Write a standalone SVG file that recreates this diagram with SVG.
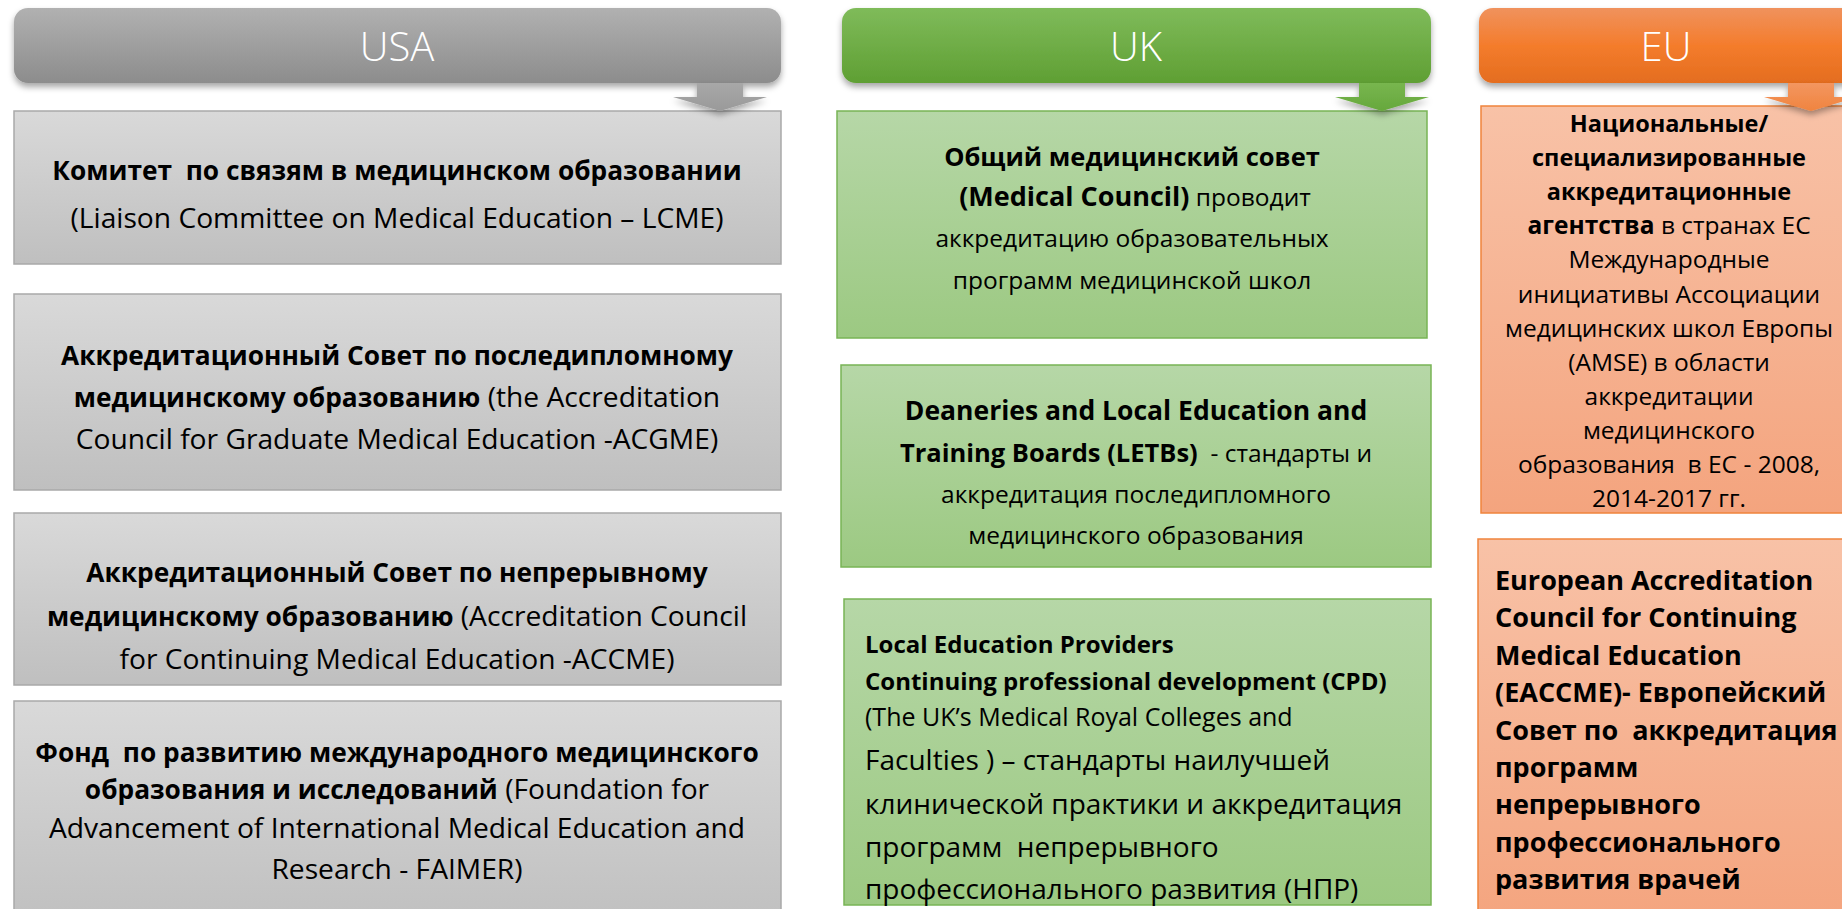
<svg xmlns="http://www.w3.org/2000/svg" width="1842" height="909" viewBox="0 0 1842 909">
<defs>
<linearGradient id="gHdrGray" x1="0" y1="0" x2="0" y2="1"><stop offset="0" stop-color="#b1b1b1"/><stop offset="1" stop-color="#8c8c8c"/></linearGradient>
<linearGradient id="gHdrGreen" x1="0" y1="0" x2="0" y2="1"><stop offset="0" stop-color="#7fbb5a"/><stop offset="1" stop-color="#5f9f33"/></linearGradient>
<linearGradient id="gHdrOrange" x1="0" y1="0" x2="0" y2="1"><stop offset="0" stop-color="#f0925d"/><stop offset="0.5" stop-color="#f47c2c"/><stop offset="1" stop-color="#e46d1f"/></linearGradient>
<linearGradient id="gBoxGray" x1="0" y1="0" x2="0" y2="1"><stop offset="0" stop-color="#d9d9d9"/><stop offset="1" stop-color="#bfbfbf"/></linearGradient>
<linearGradient id="gBoxGreen" x1="0" y1="0" x2="0" y2="1"><stop offset="0" stop-color="#b6d7a7"/><stop offset="1" stop-color="#9cc982"/></linearGradient>
<linearGradient id="gBoxOrange" x1="0" y1="0" x2="0" y2="1"><stop offset="0" stop-color="#f8c2a7"/><stop offset="1" stop-color="#f4a47e"/></linearGradient>
<linearGradient id="gArrGray" x1="0" y1="0" x2="0" y2="1"><stop offset="0" stop-color="#a8a8a8"/><stop offset="1" stop-color="#9a9a9a"/></linearGradient>
<linearGradient id="gArrGreen" x1="0" y1="0" x2="0" y2="1"><stop offset="0" stop-color="#78b64f"/><stop offset="1" stop-color="#66a83c"/></linearGradient>
<linearGradient id="gArrOrange" x1="0" y1="0" x2="0" y2="1"><stop offset="0" stop-color="#f39660"/><stop offset="1" stop-color="#f0843f"/></linearGradient>
<filter id="shadow" x="-10%" y="-30%" width="120%" height="170%"><feDropShadow dx="0" dy="4" stdDeviation="3" flood-color="#000" flood-opacity="0.35"/></filter>
</defs>
<style>
text{font-family:"Open Sans","Noto Sans","DejaVu Sans",sans-serif;fill:#000;}
.hdr{font-size:40px;font-weight:300;fill:#fff;text-anchor:middle;}
.c{text-anchor:middle;}
.b{font-weight:700;}
.ub{font-size:26.3px;font-weight:700;}
.ur{font-size:28.2px;}
.k{font-size:25.5px;}
.kr{font-size:24.5px;}
.klb{font-size:26.5px;font-weight:700;}
.kmb{font-size:27px;font-weight:700;}
.k1{font-size:24px;}
.k2{font-size:25px;}
.k3{font-size:28px;}
.e1b{font-size:23.5px;font-weight:700;}
.e1{font-size:24.5px;}
.e2{font-size:27px;font-weight:700;}
.bxGray{fill:url(#gBoxGray);stroke:#a9a9a9;stroke-width:1.5;}
.bxGreen{fill:url(#gBoxGreen);stroke:#78b455;stroke-width:1.5;}
.bxOrange{fill:url(#gBoxOrange);stroke:#f0843c;stroke-width:1.5;}
</style>
<rect width="1842" height="909" fill="#fff"/>

<g id="usa-header">
<rect x="14" y="8" width="767" height="75" rx="14" fill="url(#gHdrGray)" filter="url(#shadow)"/>
<text class="hdr" x="397" y="61">USA</text>
</g>
<g id="uk-header">
<rect x="842" y="8" width="589" height="75" rx="14" fill="url(#gHdrGreen)" filter="url(#shadow)"/>
<text class="hdr" x="1136" y="61">UK</text>
</g>
<g id="eu-header">
<rect x="1479" y="8" width="390" height="75" rx="14" fill="url(#gHdrOrange)" filter="url(#shadow)"/>
<text class="hdr" x="1666" y="61">EU</text>
</g>

<g id="usa-lcme">
<rect class="bxGray" x="14" y="111" width="767" height="153"/>
<text class="ub c" x="397" y="180">Комитет&#160; по связям в медицинском образовании</text>
<text class="ur c" x="397" y="228">(Liaison Committee on Medical Education – LCME)</text>
</g>
<g id="usa-acgme">
<rect class="bxGray" x="14" y="294" width="767" height="196"/>
<text class="ub c" x="397" y="365">Аккредитационный Совет по последипломному</text>
<text class="ur c" x="397" y="407"><tspan class="ub">медицинскому образованию</tspan> (the Accreditation</text>
<text class="ur c" x="397" y="449">Council for Graduate Medical Education -ACGME)</text>
</g>
<g id="usa-accme">
<rect class="bxGray" x="14" y="513" width="767" height="172"/>
<text class="ub c" x="397" y="582">Аккредитационный Совет по непрерывному</text>
<text class="ur c" x="397" y="626"><tspan class="ub">медицинскому образованию</tspan> (Accreditation Council</text>
<text class="ur c" x="397" y="669">for Continuing Medical Education -ACCME)</text>
</g>
<g id="usa-faimer">
<rect class="bxGray" x="14" y="701" width="767" height="230"/>
<text class="ub c" x="397" y="762">Фонд&#160; по развитию международного медицинского</text>
<text class="ur c" x="397" y="799"><tspan class="ub">образования и исследований</tspan> (Foundation for</text>
<text class="ur c" x="397" y="838">Advancement of International Medical Education and</text>
<text class="ur c" x="397" y="879">Research - FAIMER)</text>
</g>

<g id="uk-gmc">
<rect class="bxGreen" x="837" y="111" width="590" height="227"/>
<text class="k c b" x="1132" y="166">Общий медицинский совет</text>
<text class="kr c" x="1135" y="206"><tspan class="kmb">(Medical Council)</tspan> проводит</text>
<text class="kr c" x="1132" y="247">аккредитацию образовательных</text>
<text class="kr c" x="1132" y="289">программ медицинской школ</text>
</g>
<g id="uk-letb">
<rect class="bxGreen" x="841" y="365" width="590" height="202"/>
<text class="klb c" x="1136" y="420">Deaneries and Local Education and</text>
<text class="kr c" x="1136" y="462"><tspan class="k b">Training Boards (LETBs)</tspan>&#160; - стандарты и</text>
<text class="kr c" x="1136" y="503">аккредитация последипломного</text>
<text class="kr c" x="1136" y="544">медицинского образования</text>
</g>
<g id="uk-cpd">
<rect class="bxGreen" x="844" y="599" width="587" height="306"/>
<text class="k1 b" x="865" y="653">Local Education Providers</text>
<text class="k1 b" x="865" y="690">Continuing professional development (CPD)</text>
<text class="k2" x="865" y="726">(The UK’s Medical Royal Colleges and</text>
<text class="k3" x="865" y="770">Faculties ) – стандарты наилучшей</text>
<text class="k3" x="865" y="814">клинической практики и аккредитация</text>
<text class="k3" x="865" y="857">программ&#160; непрерывного</text>
<text class="k3" x="865" y="899">профессионального развития (НПР)</text>
</g>

<g id="eu-national">
<rect class="bxOrange" x="1481" y="106" width="380" height="407"/>
<text class="e1b c" x="1669" y="132">Национальные/</text>
<text class="e1b c" x="1669" y="166">специализированные</text>
<text class="e1b c" x="1669" y="200">аккредитационные</text>
<text class="e1 c" x="1669" y="234"><tspan class="b">агентства</tspan> в странах ЕС</text>
<text class="e1 c" x="1669" y="268">Международные</text>
<text class="e1 c" x="1669" y="303">инициативы Ассоциации</text>
<text class="e1 c" x="1669" y="337">медицинских школ Европы</text>
<text class="e1 c" x="1669" y="371">(AMSE) в области</text>
<text class="e1 c" x="1669" y="405">аккредитации</text>
<text class="e1 c" x="1669" y="439">медицинского</text>
<text class="e1 c" x="1669" y="473">образования&#160; в ЕС - 2008,</text>
<text class="e1 c" x="1669" y="507">2014-2017 гг.</text>
</g>
<g id="eu-eaccme">
<rect class="bxOrange" x="1478" y="539" width="380" height="390"/>
<text class="e2" x="1495" y="590">European Accreditation</text>
<text class="e2" x="1495" y="627">Council for Continuing</text>
<text class="e2" x="1495" y="665">Medical Education</text>
<text class="e2" x="1495" y="702">(EACCME)- Европейский</text>
<text class="e2" x="1495" y="740">Совет по&#160; аккредитация</text>
<text class="e2" x="1495" y="777">программ</text>
<text class="e2" x="1495" y="814">непрерывного</text>
<text class="e2" x="1495" y="852">профессионального</text>
<text class="e2" x="1495" y="889">развития врачей</text>
</g>

<g id="connectors">
<path d="M697,83 H743 V97 H767 L720,111 L673,97 H697 Z" fill="url(#gArrGray)" filter="url(#shadow)"/>
<path d="M1359,83 H1405 V97 H1429 L1382,111 L1335,97 H1359 Z" fill="url(#gArrGreen)" filter="url(#shadow)"/>
<path d="M1788,83 H1834 V97 H1858 L1811,111 L1764,97 H1788 Z" fill="url(#gArrOrange)" filter="url(#shadow)"/>
</g>
</svg>
